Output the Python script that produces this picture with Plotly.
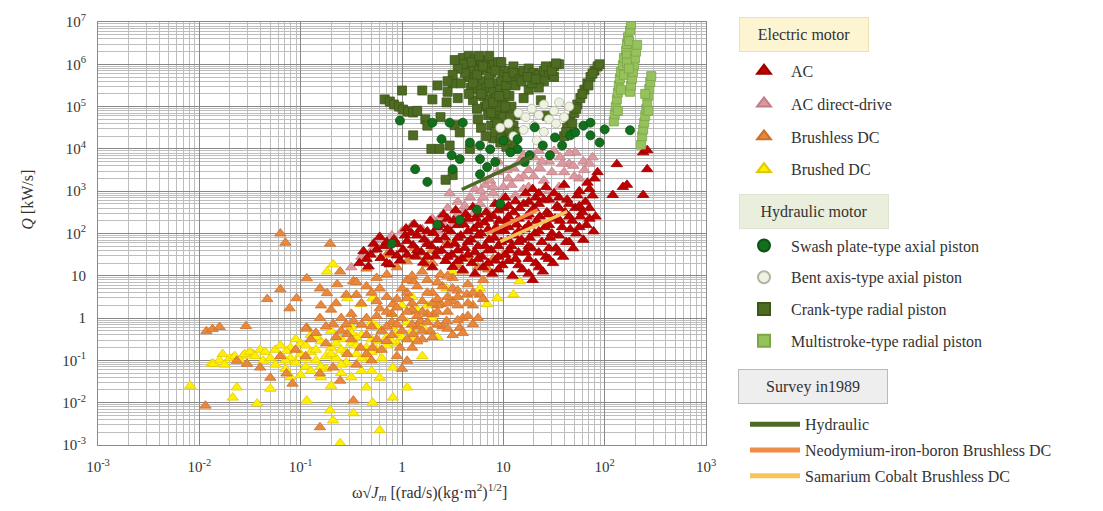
import numpy as np
import plotly.graph_objects as go

# ---------------- data: (log10 ω√Jm, log10 Q) pairs ----------------
ac_log = [
    (-0.42, 1.30), (-0.38, 1.58), (-0.31, 1.50), (-0.28, 1.76), (-0.33, 1.22),
    (-0.21, 1.42), (-0.18, 1.70), (-0.22, 1.92), (-0.11, 1.55), (-0.08, 1.86), (-0.12, 1.27),
    (0.01, 1.62), (0.03, 1.95), (-0.02, 1.36), (0.04, 2.12), (0.11, 1.72), (0.09, 2.02),
    (0.13, 1.46), (0.12, 2.22), (0.19, 1.56), (0.22, 1.86), (0.18, 2.10), (0.21, 1.31),
    (0.29, 1.70), (0.31, 2.01), (0.28, 2.30), (0.33, 1.46), (0.30, 1.20),
    (0.39, 1.60), (0.42, 1.91), (0.38, 2.20), (0.41, 2.45), (0.43, 1.35),
    (0.49, 1.50), (0.52, 1.76), (0.48, 2.05), (0.51, 2.31), (0.53, 2.55), (0.50, 1.21),
    (0.59, 1.41), (0.62, 1.66), (0.58, 1.95), (0.61, 2.21), (0.63, 2.46), (0.60, 1.14),
    (0.69, 1.30), (0.72, 1.56), (0.68, 1.86), (0.71, 2.11), (0.73, 2.36), (0.70, 2.62), (0.72, 1.05),
    (0.79, 1.45), (0.82, 1.71), (0.78, 2.00), (0.81, 2.26), (0.83, 2.50), (0.80, 1.20),
    (0.89, 1.05), (0.92, 1.36), (0.88, 1.61), (0.91, 1.90), (0.93, 2.15), (0.90, 2.41), (0.92, 2.70),
    (0.99, 1.25), (1.02, 1.50), (0.98, 1.80), (1.01, 2.06), (1.03, 2.31), (1.00, 2.60), (1.02, 2.85),
    (1.09, 1.00), (1.12, 1.40), (1.08, 1.70), (1.11, 1.95), (1.13, 2.21), (1.10, 2.50), (1.12, 2.76),
    (1.19, 1.15), (1.22, 1.55), (1.18, 1.85), (1.21, 2.10), (1.23, 2.40), (1.20, 2.70), (1.22, 2.95),
    (1.29, 0.90), (1.32, 1.30), (1.28, 1.65), (1.31, 2.00), (1.33, 2.30), (1.30, 2.60), (1.32, 2.85), (1.29, 3.05),
    (1.39, 1.10), (1.42, 1.45), (1.38, 1.80), (1.41, 2.15), (1.43, 2.50), (1.40, 2.80), (1.42, 3.10),
    (1.49, 1.30), (1.52, 1.65), (1.48, 2.00), (1.51, 2.35), (1.53, 2.65), (1.50, 2.95),
    (1.59, 1.45), (1.62, 1.80), (1.58, 2.15), (1.61, 2.50), (1.63, 2.80), (1.60, 3.15),
    (1.69, 1.65), (1.72, 2.00), (1.68, 2.30), (1.71, 2.60), (1.73, 2.90),
    (1.79, 1.85), (1.82, 2.20), (1.78, 2.50), (1.81, 2.75), (1.83, 3.20),
    (1.89, 2.05), (1.91, 2.40), (1.88, 2.90), (1.90, 3.30), (1.93, 3.45),
    (0.86, 1.85), (0.96, 2.30), (1.06, 1.60), (1.16, 2.60), (1.26, 1.90), (1.36, 2.40),
    (1.46, 1.90), (1.56, 2.30), (1.66, 2.10), (1.76, 2.40), (0.65, 1.80), (0.75, 2.20),
    (0.55, 1.60), (0.45, 2.10), (1.05, 2.40), (1.35, 2.70), (1.45, 2.20), (1.25, 2.20),
    (-0.35, 1.40), (-0.25, 1.62), (-0.15, 1.30), (-0.15, 1.80), (-0.05, 1.48), (-0.05, 1.75),
    (0.05, 1.50), (0.05, 1.82), (0.15, 1.60), (0.15, 1.95), (0.25, 1.45), (0.25, 1.75),
    (0.25, 2.05), (0.35, 1.58), (0.35, 1.85), (0.35, 2.15), (0.45, 1.45), (0.45, 1.72),
    (0.45, 2.35), (0.55, 1.35), (0.55, 1.90), (0.55, 2.20), (0.65, 1.50), (0.65, 2.05),
    (0.65, 2.35), (0.75, 1.40), (0.75, 1.70), (0.75, 1.95), (0.75, 2.45), (0.85, 1.30),
    (0.85, 1.60), (0.85, 2.10), (0.85, 2.35), (0.95, 1.15), (0.95, 1.45), (0.95, 1.70),
    (0.95, 2.05), (0.95, 2.55), (1.05, 1.35), (1.05, 1.85), (1.05, 2.15), (1.05, 2.65),
    (1.15, 1.25), (1.15, 1.55), (1.15, 1.80), (1.15, 2.05), (1.15, 2.35), (1.25, 1.05),
    (1.25, 1.40), (1.25, 1.70), (1.25, 2.45), (1.25, 2.75), (1.35, 1.20), (1.35, 1.55),
    (1.35, 2.05), (1.35, 2.95), (1.45, 1.40), (1.45, 1.65), (1.45, 2.45), (1.45, 2.80),
    (1.55, 1.55), (1.55, 1.95), (1.55, 2.60), (1.55, 2.85), (1.65, 1.80), (1.65, 2.40),
    (1.65, 2.70), (1.75, 2.15), (1.75, 2.65), (1.75, 3.00), (1.85, 2.35), (1.85, 2.60),
    (1.85, 3.05),
    (2.08, 2.91), (2.12, 3.64), (2.18, 3.10), (2.22, 3.15), (2.38, 2.91), (2.38, 3.92),
    (2.42, 3.52), (2.42, 3.97),
]

ac_dd_log = [
    (-0.50, 1.20), (-0.40, 1.45), (-0.30, 1.60), (-0.20, 1.85), (-0.10, 1.95), (0.00, 2.05),
    (0.10, 2.20), (0.20, 2.10), (0.25, 1.80), (0.30, 2.35), (0.38, 2.40), (0.45, 2.60),
    (0.47, 2.95), (0.55, 2.75), (0.60, 2.50), (0.67, 2.85), (0.72, 3.05), (0.77, 2.70),
    (0.82, 3.15), (0.87, 3.25), (0.90, 2.95), (0.94, 3.45), (1.00, 3.10), (1.05, 3.30),
    (1.10, 3.55), (1.16, 3.70), (1.20, 3.35), (1.25, 3.50), (1.30, 3.80), (1.36, 3.55),
    (1.40, 3.25), (1.45, 3.70), (1.50, 3.95), (1.56, 3.80), (1.60, 3.45), (1.65, 3.65),
    (1.69, 3.60), (1.71, 3.92), (1.79, 3.70), (1.75, 3.30), (1.55, 3.10), (1.25, 3.10),
    (0.98, 2.65), (0.65, 2.30), (0.35, 2.05), (1.12, 2.90), (1.45, 3.00), (0.85, 2.50),
    (0.50, 2.20), (1.80, 3.50), (1.88, 3.80), (1.35, 3.95), (0.95, 3.70), (1.20, 3.85),
    (0.55, 2.45), (0.62, 2.65), (0.70, 2.45), (0.80, 2.85), (0.90, 3.10), (1.00, 2.85),
    (1.08, 3.15), (1.15, 3.30), (1.30, 3.35), (1.38, 3.70), (1.48, 3.45), (1.58, 3.65),
    (1.65, 3.90), (0.40, 2.25), (1.70, 3.35), (1.85, 3.65), (1.20, 3.05), (0.78, 3.00),
    (1.03, 3.50),
]

bldc_log = [
    (-1.33, 0.45), (-1.20, 0.68), (-1.11, 0.23), (-1.04, 0.47), (-0.94, 0.94), (-0.81, 0.70),
    (-0.74, 0.59), (-0.61, 1.10), (-0.64, 0.80), (-0.48, 0.87), (-0.94, -0.23), (-0.81, 0.00),
    (-0.68, -0.14), (-0.54, -0.38), (-0.48, -0.07), (-0.35, 0.00), (-0.22, 0.23), (-0.09, 0.33),
    (0.05, 0.47), (0.11, 0.16), (0.18, -0.07), (0.31, 0.09), (0.38, 0.33), (0.50, 0.40),
    (0.64, 0.56), (0.70, -0.14), (0.57, -0.23), (0.44, -0.07), (0.28, -0.31), (0.11, -0.38),
    (0.05, -1.01), (-0.02, -0.70), (-0.15, -0.54), (-0.29, -0.70), (-0.41, -0.70), (-0.54, -0.85),
    (-0.68, -1.17), (-0.81, -1.31), (-1.08, -1.55), (-1.14, -1.31), (-1.30, -1.41), (-1.40, -1.17),
    (-1.53, -1.08), (-1.63, -1.01), (-0.81, -2.58), (-0.48, -1.95), (-0.61, -1.48),
    (-0.22, 0.70), (-0.15, 1.03), (0.11, 0.87), (0.25, 1.27), (-0.35, 1.17), (0.50, 0.70),
    (0.77, 0.56), (-0.15, 1.50), (0.05, 1.34), (0.38, 1.03),
    (-1.93, -0.31), (-1.87, -0.26), (-1.80, -0.21), (-1.54, -0.19), (-1.20, 2.00), (-1.15, 1.78),
    (-1.94, -2.07), (-0.71, 1.76), (-0.95, -0.90), (-1.05, -0.75),
    (0.00, 0.00), (0.10, 0.20), (0.20, 0.40), (0.30, 0.60), (0.40, 0.75), (0.50, 0.95),
    (0.60, 1.10), (0.15, -0.20), (0.25, 0.10), (0.35, 0.30), (0.45, 0.50), (0.55, 0.65),
    (0.65, 0.80), (0.00, -0.30), (0.10, -0.15), (0.20, 0.15), (0.30, 0.35), (0.45, 0.15),
    (0.55, 0.30), (0.60, 0.00), (0.40, -0.20), (-0.10, -0.10), (-0.20, -0.30), (-0.30, -0.20),
    (-0.10, 0.10), (0.05, 0.60), (0.15, 0.75), (0.25, 0.90), (-0.25, 0.40), (-0.40, 0.35),
    (-0.50, 0.10), (-0.60, 0.00), (-0.70, 0.20), (0.70, 0.30), (0.80, 0.90), (0.75, 1.20),
    (0.90, 1.40), (1.00, 1.50), (0.85, 1.15), (-0.05, -0.90), (0.00, -1.20), (0.10, -0.70),
    (0.20, -0.50), (-0.10, -0.40), (-0.35, -0.40), (-0.50, -0.50), (-0.60, -0.30),
    (-0.75, -0.60), (-0.90, -0.50), (-1.20, -0.90), (-0.45, -1.10), (-0.30, -1.00),
    (0.05, 0.90), (-0.05, 1.20), (0.15, 1.45), (0.30, 1.60), (0.45, 1.80), (0.12, 1.65),
    (-0.25, 0.05), (-0.15, 0.15), (-0.05, 0.25), (0.05, 0.15), (0.15, 0.05), (0.25, -0.10),
    (0.35, -0.15), (0.35, 0.15), (0.45, 0.35), (0.55, 0.50), (0.65, 0.35), (0.65, 0.05),
    (0.55, -0.05), (0.45, -0.25), (0.30, -0.45), (0.15, -0.55), (0.05, -0.50), (-0.05, -0.15),
    (-0.15, -0.20), (-0.25, -0.50), (-0.40, -0.15), (-0.55, -0.15), (-0.65, 0.35), (-0.45, 0.55),
    (-0.30, 0.60), (-0.15, 0.50), (0.00, 0.70), (0.10, 1.00), (0.20, 1.10), (0.30, 1.30),
    (0.35, 0.85), (0.45, 1.00), (0.55, 1.25), (0.65, 1.40), (0.70, 0.60), (0.25, 0.60),
    (0.35, 0.45), (0.10, 0.35), (-0.05, 0.45), (0.20, -0.30),
    (-0.85, -0.35), (-0.75, -0.20), (-0.65, -0.45), (-0.95, -0.25), (-0.80, 0.30), (-0.55, 0.55),
    (-0.35, 0.75), (-0.25, 0.95), (-0.45, 0.85), (0.75, 0.00), (0.80, 0.45), (0.60, -0.35),
    (0.50, -0.40), (-0.20, -0.75), (-0.35, -0.85),
]

brushed_log = [
    (-2.09, -1.60), (-1.88, -1.08), (-1.77, -0.85), (-1.67, -0.94), (-1.57, -0.89), (-1.47, -0.85),
    (-1.37, -1.01), (-1.67, -1.88), (-1.43, -2.02), (-1.30, -1.67), (-0.94, -1.95), (-0.71, -2.18),
    (-0.68, -2.42), (-0.48, -2.25), (-0.29, -2.00), (-0.22, -2.65), (-0.61, -2.96), (-0.09, -1.88),
    (0.05, -1.64), (-0.68, 1.27), (-0.74, 1.10), (-0.54, 0.47), (-0.41, 0.33), (-0.29, 0.47),
    (0.44, 0.70), (0.77, 0.70), (0.84, 0.33), (1.10, 0.56), (1.16, 0.87), (0.94, 0.47),
    (-0.09, -1.17), (-0.22, -1.41), (-0.35, -1.64),
    (-1.20, -0.90), (-1.10, -0.70), (-1.00, -0.60), (-0.90, -0.80), (-0.80, -0.55), (-0.70, -0.70),
    (-0.60, -0.50), (-0.50, -0.60), (-0.40, -0.40), (-0.30, -0.50), (-0.20, -0.30), (-0.10, -0.20),
    (-1.15, -1.20), (-1.05, -1.05), (-0.95, -1.15), (-0.85, -1.00), (-0.75, -1.20), (-0.65, -0.95),
    (-0.55, -1.05), (-0.45, -0.85), (-0.35, -0.95), (-0.25, -0.75), (-0.15, -0.65), (-1.00, -1.35),
    (-0.80, -1.40), (-0.60, -1.30), (-0.40, -1.25), (-0.90, -0.40), (-0.70, -0.30), (-0.50, -0.20),
    (-0.30, -0.10), (-0.10, 0.10), (0.00, 0.30), (0.10, -0.50), (0.20, -0.20), (0.30, 0.00),
    (0.10, 0.50), (-0.05, -0.60), (0.20, -0.90), (0.35, -0.45),
    (-1.86, -1.08), (-1.80, -1.00), (-1.75, -1.10), (-1.70, -0.95), (-1.65, -0.90), (-1.60, -1.00),
    (-1.55, -0.85), (-1.50, -0.80), (-1.45, -0.90), (-1.40, -0.75), (-1.63, -1.64), (-1.14, -0.78),
    (-1.25, -1.10), (-1.10, -0.95), (-0.85, -0.75), (-0.45, -0.45), (0.50, 1.10), (0.25, 0.30),
    (-1.35, -0.80), (-1.25, -0.75), (-1.00, -0.85), (-0.95, -0.65), (-0.85, -0.45), (-0.75, -0.90),
    (-0.65, -0.60), (-0.55, -0.80), (-0.45, -0.65), (-0.35, -0.70), (-0.25, -0.55), (-0.15, -0.45),
    (-0.05, -0.35), (0.05, -0.10), (-0.60, -1.10), (-0.80, -1.15), (-1.10, -1.40), (-0.50, -1.40),
    (-0.30, -1.25), (-0.70, -1.60), (-1.05, -0.50), (-0.20, -0.95),
    (-1.30, -0.95), (-1.20, -0.65), (-1.15, -1.00), (-0.95, -0.95), (-0.90, -1.25), (-0.70, -0.85),
    (-0.60, -0.75), (-0.40, -0.95), (-0.30, -0.80), (-0.10, -0.55), (0.00, -0.45), (0.10, -0.30),
    (-0.50, -0.35), (-0.25, -0.20), (0.15, 0.20),
]

swash_log = [
    (-0.02, 4.67), (0.13, 3.52), (0.25, 3.22), (0.39, 4.23), (0.47, 4.62), (0.49, 3.85),
    (0.50, 3.52), (0.57, 3.76), (0.60, 4.62), (0.77, 4.08), (0.77, 3.76), (0.77, 3.40),
    (0.87, 3.99), (1.00, 4.20), (1.14, 3.99), (1.14, 4.23), (1.26, 3.85), (1.39, 4.08),
    (1.46, 3.85), (1.58, 4.08), (1.66, 4.32), (1.71, 4.39), (1.79, 4.55), (1.86, 4.62),
    (1.86, 4.32), (2.00, 4.46), (2.25, 4.44), (0.97, 2.70), (0.74, 2.56), (0.57, 2.32),
    (0.35, 2.21), (-0.10, 1.76), (0.67, 4.15), (0.92, 3.69), (1.31, 4.51), (1.51, 4.27),
    (0.30, 4.62), (0.84, 3.57), (1.07, 3.92), (1.21, 3.69), (1.95, 4.15),
]

bent_log = [
    (1.15, 4.85), (1.22, 4.75), (1.28, 4.95), (1.35, 4.80), (1.40, 5.05), (1.45, 4.70),
    (1.30, 4.55), (1.50, 4.90), (1.55, 5.10), (1.20, 4.45), (1.40, 4.40), (1.60, 4.75),
    (1.05, 4.60), (0.97, 4.50), (1.65, 5.00), (1.52, 4.60), (1.10, 4.30), (1.33, 4.20),
]

crank_log = [
    (-0.17, 5.17), (-0.12, 5.12), (-0.08, 5.05), (-0.03, 5.00), (0.01, 4.93), (0.06, 4.88),
    (0.00, 5.38), (0.20, 5.38), (0.35, 5.50), (0.50, 5.55), (0.30, 5.17), (0.44, 5.10),
    (0.11, 4.86), (0.23, 4.70), (0.11, 4.32), (0.29, 4.00), (0.37, 4.00), (0.47, 4.08),
    (0.67, 4.00), (0.50, 3.38), (0.43, 3.27), (0.52, 4.56), (0.57, 4.39), (0.25, 4.55),
    (0.15, 4.90), (0.38, 4.75), (0.45, 5.35), (0.55, 5.20),
    (0.60, 6.15), (0.66, 6.20), (0.72, 6.12), (0.78, 6.05), (0.84, 6.10), (0.90, 6.00),
    (0.62, 5.95), (0.70, 5.90), (0.76, 5.85), (0.82, 5.92), (0.88, 5.80), (0.95, 5.90),
    (1.00, 5.75), (1.05, 5.85), (1.10, 5.95), (1.15, 5.80), (0.65, 5.70), (0.72, 5.65),
    (0.80, 5.60), (0.86, 5.70), (0.92, 5.55), (0.98, 5.60), (0.58, 5.55), (0.68, 5.45),
    (0.75, 5.40), (0.83, 5.45), (0.90, 5.35), (0.97, 5.40), (1.03, 5.50), (1.08, 5.65),
    (0.80, 5.25), (0.86, 5.15), (0.93, 5.20), (1.00, 5.10), (1.06, 5.25), (0.82, 5.00),
    (0.90, 4.95), (0.96, 4.90), (1.02, 4.85), (1.08, 5.00), (1.12, 4.80), (0.85, 4.80),
    (0.92, 4.70), (0.98, 4.65), (1.05, 4.60), (1.10, 4.55), (0.88, 4.55), (0.95, 4.45),
    (1.00, 4.35), (1.06, 4.30), (1.12, 4.40), (0.90, 4.25), (0.97, 4.15), (1.03, 4.05),
    (1.10, 4.10), (0.78, 4.50), (0.83, 4.30), (0.75, 4.70), (0.70, 5.15), (0.74, 4.95),
    (0.66, 5.30), (0.95, 6.05), (1.02, 5.30), (0.93, 5.00), (1.00, 4.75),
    (0.62, 5.80), (0.68, 6.05), (0.74, 5.75), (0.80, 5.95), (0.86, 5.55), (0.92, 5.85),
    (0.98, 6.05), (1.04, 5.70), (1.10, 5.80), (0.70, 5.55), (0.78, 5.30), (0.84, 5.05),
    (0.90, 5.10), (0.96, 5.25), (1.02, 5.00), (1.07, 4.75), (0.88, 4.85), (0.94, 4.60),
    (1.00, 4.50), (1.06, 4.45), (0.92, 4.40), (0.98, 4.25), (1.04, 4.20), (0.60, 6.00),
    (0.55, 5.90), (0.50, 5.75), (0.45, 5.60), (0.52, 6.10), (1.16, 5.65), (1.12, 5.50),
    (0.86, 6.20), (0.76, 6.20),
    (1.20, 5.85), (1.25, 5.90), (1.30, 5.80), (1.35, 5.75), (1.40, 5.85), (1.45, 5.90),
    (1.50, 5.95), (1.55, 6.00), (1.45, 5.75), (1.50, 5.70), (1.40, 5.60), (1.30, 5.55),
    (1.25, 5.40), (1.35, 5.45), (1.20, 5.20), (1.28, 5.55), (1.37, 5.15), (1.43, 4.78),
    (1.18, 5.60), (1.24, 5.70), (1.32, 5.65), (1.42, 5.95), (1.48, 5.85), (1.52, 6.02),
    (1.60, 4.30), (1.63, 4.50), (1.66, 4.70), (1.70, 4.85), (1.73, 5.05), (1.76, 5.20),
    (1.80, 5.40), (1.83, 5.55), (1.86, 5.70), (1.90, 5.85), (1.93, 5.95), (1.68, 4.60),
    (1.78, 5.30), (1.88, 5.78), (1.62, 4.40), (1.95, 6.00), (1.72, 4.95), (1.84, 5.50),
]

multi_log = [
    (2.09, 4.65), (2.10, 4.82), (2.11, 5.00), (2.12, 5.17), (2.13, 5.33), (2.14, 5.50),
    (2.15, 5.66), (2.16, 5.82), (2.18, 5.98), (2.19, 6.15), (2.21, 6.32), (2.22, 6.48),
    (2.23, 6.64), (2.25, 6.80), (2.26, 6.95), (2.13, 4.90), (2.16, 5.40), (2.19, 5.75),
    (2.22, 6.20), (2.24, 6.55),
    (2.25, 5.35), (2.26, 5.50), (2.27, 5.66), (2.28, 5.82), (2.29, 5.98), (2.30, 6.14),
    (2.31, 6.30), (2.32, 6.46), (2.22, 6.04), (2.24, 5.90),
    (2.36, 4.10), (2.37, 4.30), (2.38, 4.46), (2.39, 4.62), (2.40, 4.78), (2.41, 4.94),
    (2.42, 5.10), (2.43, 5.26), (2.44, 5.42), (2.45, 5.58), (2.46, 5.72), (2.40, 5.30),
    (2.43, 4.90),
]

hydraulic_1989_log = [(0.59, 3.04), (1.28, 3.81)]
ndfeb_1989_log = [(0.84, 2.00), (1.34, 2.56)]
smco_1989_log = [(0.97, 1.81), (1.63, 2.52)]

x_tick_vals = [1e-3, 1e-2, 1e-1, 1, 10, 1e2, 1e3]
x_tick_text = ["10<sup>-3</sup>", "10<sup>-2</sup>", "10<sup>-1</sup>", "1", "10",
               "10<sup>2</sup>", "10<sup>3</sup>"]
y_tick_vals = [1e-3, 1e-2, 1e-1, 1, 10, 1e2, 1e3, 1e4, 1e5, 1e6, 1e7]
y_tick_text = ["10<sup>-3</sup>", "10<sup>-2</sup>", "10<sup>-1</sup>", "1", "10",
               "10<sup>2</sup>", "10<sup>3</sup>", "10<sup>4</sup>", "10<sup>5</sup>",
               "10<sup>6</sup>", "10<sup>7</sup>"]


def xy(pairs):
    a = np.array(pairs, dtype=float)
    return 10 ** a[:, 0], 10 ** a[:, 1]


FONT = "Liberation Serif"
fig = go.Figure()


def add_markers(pairs, name, symbol, color, edge, size, legend, rank):
    x, y = xy(pairs)
    fig.add_trace(go.Scatter(
        x=x, y=y, mode="markers", name=name, legend=legend, legendrank=rank,
        legendgroup=name,
        marker=dict(symbol=symbol, color=color, size=size, line=dict(color=edge, width=0.8)),
    ))


# drawing order (back to front); legend order via legendrank
add_markers(brushed_log, "Brushed DC", "triangle-up", "#fff000", "#e2c800", 10, "legend", 4)
add_markers(bldc_log, "Brushless DC", "triangle-up", "#e8883c", "#cf6f2a", 10, "legend", 3)
add_markers(ac_dd_log, "AC direct-drive", "triangle-up", "#dc9aa0", "#c27d84", 10, "legend", 2)
add_markers(ac_log, "AC", "triangle-up", "#c00000", "#990000", 10, "legend", 1)
add_markers(crank_log, "Crank-type radial piston", "square", "#4e6b22", "#3d5619", 9, "legend2", 3)
add_markers(multi_log, "Multistroke-type radial piston", "square", "#95c25c", "#7ca646", 9, "legend2", 4)
add_markers(bent_log, "Bent axis-type axial piston", "circle", "#eef2e0", "#b3b5a3", 9, "legend2", 2)
add_markers(swash_log, "Swash plate-type axial piston", "circle", "#12701c", "#0b5212", 9, "legend2", 1)

for pairs, name, color, rank in [
    (hydraulic_1989_log, "Hydraulic", "#4b6a26", 1),
    (ndfeb_1989_log, "Neodymium-iron-boron Brushless DC", "#f08c46", 2),
    (smco_1989_log, "Samarium Cobalt Brushless DC", "#f6c457", 3),
]:
    x, y = xy(pairs)
    fig.add_trace(go.Scatter(x=x, y=y, mode="lines", name=name, legend="legend3",
                             legendrank=rank, legendgroup=name,
                             line=dict(color=color, width=3.5)))

# ---- layout ----
PL, PR, PT, PB = 98, 706, 19, 445
W, H = 1103, 511
pw, ph = PR - PL, PB - PT


def px_x(px):
    return (px - PL) / pw


def px_y(py):
    return (PB - py) / ph


grid_major = "#878787"
grid_minor = "#bdbdbd"
axis_common = dict(
    type="log", showgrid=True, gridcolor=grid_major, gridwidth=1,
    showline=True, linecolor="#8a8a8a", linewidth=1, mirror=True,
    ticks="", tickmode="array",
    tickfont=dict(family=FONT, size=15, color="#333333"),
    minor=dict(dtick="D1", showgrid=True, gridcolor=grid_minor, gridwidth=1, ticks=""),
    zeroline=False,
)
fig.update_layout(
    width=W, height=H,
    margin=dict(l=PL, r=W - PR, t=PT, b=H - PB, pad=0),
    paper_bgcolor="white", plot_bgcolor="white",
    font=dict(family=FONT, size=16, color="#333333"),
    xaxis=dict(axis_common, range=[-3, 3], tickvals=x_tick_vals, ticktext=x_tick_text,
               ticklabelstandoff=8),
    yaxis=dict(axis_common, range=[-3, 7], tickvals=y_tick_vals, ticktext=y_tick_text,
               ticklabelstandoff=8),
    showlegend=True,
)

leg_common = dict(bgcolor="rgba(0,0,0,0)", borderwidth=0, xanchor="left", yanchor="top",
                  font=dict(family=FONT, size=16, color="#333333"),
                  traceorder="grouped", itemsizing="constant", itemclick=False)
fig.update_layout(
    legend=dict(leg_common, x=px_x(737), y=px_y(51), tracegroupgap=9, itemwidth=44),
    legend2=dict(leg_common, x=px_x(737), y=px_y(227), tracegroupgap=8, itemwidth=44),
    legend3=dict(leg_common, x=px_x(745), y=px_y(407), tracegroupgap=2, itemwidth=50),
)

# group title boxes
for text, cx, cy, w, bg, border in [
    ("Electric motor", 804, 31.5, 118, "#fdf5d2", "#eee2b4"),
    ("Hydraulic motor", 814, 210, 138, "#e9efdc", "#dde5cf"),
    ("Survey in1989", 813, 386, 138, "#eeeeee", "#b9b9b9"),
]:
    fig.add_annotation(xref="paper", yref="paper", x=px_x(cx), y=px_y(cy), text=text,
                       showarrow=False, width=w, height=23, borderpad=5,
                       bgcolor=bg, bordercolor=border, borderwidth=1,
                       font=dict(family=FONT, size=16, color="#333333"),
                       xanchor="center", yanchor="middle")

# axis titles
fig.add_annotation(xref="paper", yref="paper", x=px_x(28), y=px_y(198), textangle=-90,
                   text="<i>Q</i> [kW/s]", showarrow=False,
                   font=dict(family=FONT, size=16, color="#333333"),
                   xanchor="center", yanchor="middle")
fig.add_annotation(xref="paper", yref="paper", x=px_x(429), y=px_y(492),
                   text="ω√<i>J<sub>m</sub></i> [(rad/s)(kg·m<sup>2</sup>)<sup>1/2</sup>]",
                   showarrow=False, font=dict(family=FONT, size=16, color="#333333"),
                   xanchor="center", yanchor="middle")

fig.write_html("out.html")
